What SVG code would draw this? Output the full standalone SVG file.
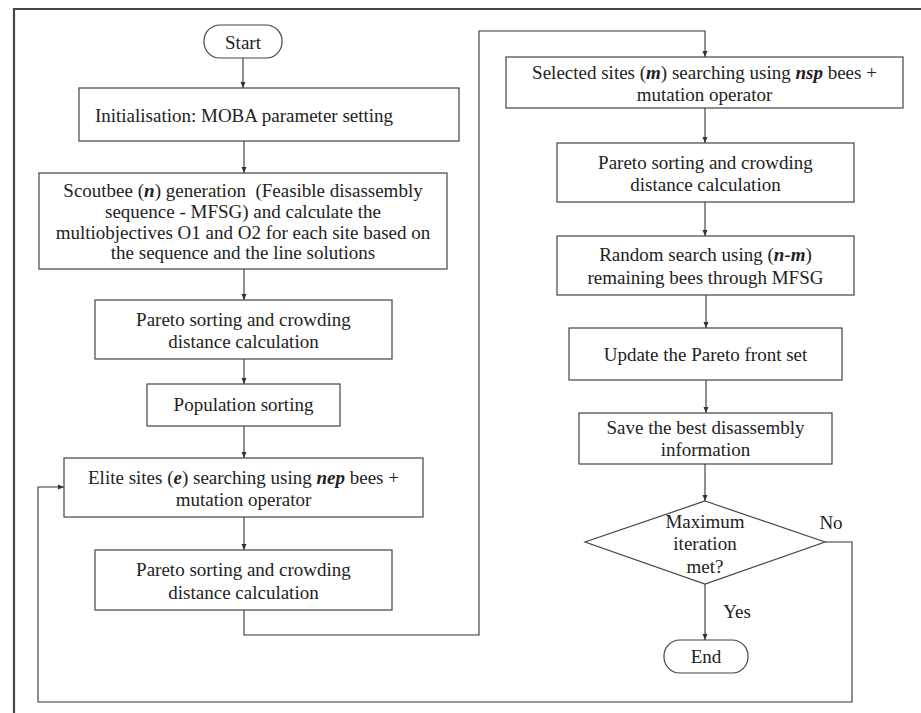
<svg xmlns="http://www.w3.org/2000/svg" width="921" height="713" viewBox="0 0 921 713">
<defs>
<marker id="ah" markerUnits="userSpaceOnUse" markerWidth="6" markerHeight="6" refX="6" refY="3" orient="auto">
<path d="M0,0.5 L6,3 L0,5.5 z" fill="#333"/>
</marker>
<style>
.box{fill:#fff;stroke:#444;stroke-width:1.2}
.t{font-family:"Liberation Serif","Times New Roman",serif;font-size:19px;fill:#222;text-anchor:middle}
.bi{font-weight:bold;font-style:italic}
.c{fill:none;stroke:#333;stroke-width:1.1}
.ca{fill:none;stroke:#333;stroke-width:1.1;marker-end:url(#ah)}
</style>
</defs>
<rect x="0" y="0" width="921" height="713" fill="#fff"/>
<path d="M14,720 L14,9 L930,9" fill="none" stroke="#444" stroke-width="2.2"/>

<g id="connectors">
<line class="ca" x1="243" y1="58" x2="243" y2="88"/>
<line class="ca" x1="244" y1="141" x2="244" y2="173"/>
<line class="ca" x1="244" y1="269" x2="244" y2="300"/>
<line class="ca" x1="244" y1="359" x2="244" y2="384"/>
<line class="ca" x1="244" y1="426" x2="244" y2="458"/>
<line class="ca" x1="244" y1="517" x2="244" y2="550"/>
<polyline class="ca" points="244,610 244,635 479,635 479,31 705,31 705,57"/>
<line class="ca" x1="705" y1="108" x2="705" y2="143"/>
<line class="ca" x1="705" y1="202" x2="705" y2="236"/>
<line class="ca" x1="706" y1="295" x2="706" y2="328"/>
<line class="ca" x1="706" y1="380" x2="706" y2="413"/>
<line class="ca" x1="705" y1="464" x2="705" y2="501"/>
<line class="ca" x1="705" y1="584" x2="705" y2="640"/>
<polyline class="ca" points="825,542 852,542 852,702 38,702 38,487 64,487"/>
<text class="t" x="831" y="529">No</text>
<text class="t" x="737" y="618">Yes</text>
</g>

<g id="start">
<rect class="box" x="204" y="25" width="78" height="33" rx="16" ry="16"/>
<text class="t" x="243" y="49">Start</text>
</g>

<g id="init">
<rect class="box" x="79" y="88" width="380" height="53"/>
<text class="t" x="244" y="122">Initialisation: MOBA parameter setting</text>
</g>

<g id="scoutbee">
<rect class="box" x="39" y="173" width="408" height="96"/>
<text class="t" x="243" y="197">Scoutbee (<tspan class="bi">n</tspan>) generation&#160; (Feasible disassembly</text>
<text class="t" x="243" y="218">sequence - MFSG) and calculate the</text>
<text class="t" x="243" y="238.5">multiobjectives O1 and O2 for each site based on</text>
<text class="t" x="243" y="259">the sequence and the line solutions</text>
</g>

<g id="pareto1">
<rect class="box" x="95" y="300" width="297" height="59"/>
<text class="t" x="243.5" y="326">Pareto sorting and crowding</text>
<text class="t" x="243.5" y="348">distance calculation</text>
</g>

<g id="population">
<rect class="box" x="147" y="384" width="193" height="42"/>
<text class="t" x="243.5" y="411">Population sorting</text>
</g>

<g id="elite">
<rect class="box" x="64" y="458" width="359" height="59"/>
<text class="t" x="243.5" y="484">Elite sites (<tspan class="bi">e</tspan>) searching using <tspan class="bi">nep</tspan> bees +</text>
<text class="t" x="243.5" y="506">mutation operator</text>
</g>

<g id="pareto2">
<rect class="box" x="95" y="550" width="297" height="60"/>
<text class="t" x="243.5" y="576">Pareto sorting and crowding</text>
<text class="t" x="243.5" y="599">distance calculation</text>
</g>

<g id="selected">
<rect class="box" x="506" y="57" width="397" height="51"/>
<text class="t" x="704.5" y="79">Selected sites (<tspan class="bi">m</tspan>) searching using <tspan class="bi">nsp</tspan> bees +</text>
<text class="t" x="704.5" y="101">mutation operator</text>
</g>

<g id="pareto3">
<rect class="box" x="557" y="143" width="297" height="59"/>
<text class="t" x="705.5" y="169">Pareto sorting and crowding</text>
<text class="t" x="705.5" y="191">distance calculation</text>
</g>

<g id="random">
<rect class="box" x="557" y="236" width="297" height="59"/>
<text class="t" x="705.5" y="261">Random search using (<tspan class="bi">n-m</tspan>)</text>
<text class="t" x="705.5" y="284">remaining bees through MFSG</text>
</g>

<g id="update">
<rect class="box" x="569" y="328" width="273" height="52"/>
<text class="t" x="705.5" y="361">Update the Pareto front set</text>
</g>

<g id="save">
<rect class="box" x="579" y="413" width="253" height="51"/>
<text class="t" x="705.5" y="434">Save the best disassembly</text>
<text class="t" x="705.5" y="456">information</text>
</g>

<g id="decision">
<polygon class="box" points="705,501 825,542 705,584 585,542"/>
<text class="t" x="705" y="528">Maximum</text>
<text class="t" x="705" y="550">iteration</text>
<text class="t" x="705" y="573">met?</text>
</g>

<g id="end">
<rect class="box" x="664" y="640" width="84" height="33" rx="16" ry="16"/>
<text class="t" x="706" y="663">End</text>
</g>
</svg>
